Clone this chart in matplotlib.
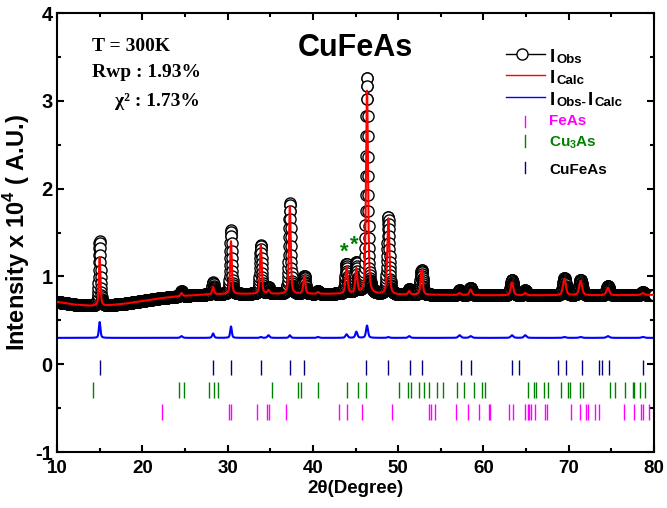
import numpy as np
import matplotlib.pyplot as plt

plt.rcParams['font.family'] = ['Liberation Sans', 'DejaVu Sans']
plt.rcParams['font.weight'] = 'bold'
plt.rcParams['axes.labelweight'] = 'bold'
plt.rcParams['axes.unicode_minus'] = False
plt.rcParams['mathtext.fontset'] = 'custom'
plt.rcParams['mathtext.rm'] = 'Liberation Sans:bold'
plt.rcParams['mathtext.bf'] = 'Liberation Sans:bold'

# background (2theta, intensity x1e4)
bkg_x = [10, 12, 14, 16, 18, 20, 22, 24, 26, 28, 30, 35, 40, 45, 50, 55, 60, 65, 70, 75, 80]
bkg_y = [0.71, 0.68, 0.665, 0.67, 0.69, 0.72, 0.75, 0.77, 0.785, 0.795, 0.80, 0.80, 0.80,
         0.80, 0.79, 0.79, 0.785, 0.785, 0.785, 0.785, 0.79]

# peaks: position, observed top, calculated top, fwhm
peak_pos = [15.0, 24.6, 28.3, 30.4, 33.9, 34.8, 37.3, 39.0, 40.6, 43.95, 45.1, 46.35,
            48.85, 51.3, 52.75, 57.2, 58.5, 63.35, 64.9, 69.5, 71.4, 74.6, 78.7]
peak_obs = [1.40, 0.83, 0.93, 1.53, 1.36, 0.87, 1.83, 1.00, 0.83, 1.14, 1.15, 3.26,
            1.67, 0.85, 1.07, 0.84, 0.87, 0.96, 0.84, 0.98, 0.96, 0.89, 0.82]
peak_calc = [1.22, 0.81, 0.88, 1.40, 1.35, 0.84, 1.80, 1.00, 0.82, 1.10, 1.08, 3.12,
             1.66, 0.83, 1.07, 0.81, 0.85, 0.93, 0.81, 0.97, 0.95, 0.87, 0.81]
peak_fwhm = [0.22, 0.3, 0.25, 0.22, 0.25, 0.3, 0.25, 0.28, 0.3, 0.3, 0.28, 0.28,
             0.3, 0.3, 0.3, 0.35, 0.35, 0.35, 0.35, 0.4, 0.4, 0.4, 0.4]

# reflection positions
fe_as = [22.35, 30.2, 30.4, 33.4, 34.6, 34.85, 36.85, 43.1, 44.0, 45.8, 49.3, 53.6, 53.85,
         54.3, 56.8, 58.2, 59.5, 60.7, 60.8, 62.95, 63.46, 64.9, 65.2, 65.4, 65.6, 66.1,
         67.25, 67.5, 70.3, 71.3, 71.97, 72.3, 73.1, 73.6, 76.5, 77.6, 78.5, 78.7, 79.4]
cu3_as = [14.25, 24.34, 24.93, 27.86, 28.41, 28.91, 35.24, 38.2, 38.57, 40.63, 44.03, 45.25,
          46.26, 50.1, 51.1, 51.45, 52.5, 53.0, 53.65, 54.6, 55.25, 56.9, 57.7, 58.94, 59.8,
          60.14, 65.2, 65.9, 66.2, 67.1, 67.56, 69.1, 69.95, 70.1, 71.35, 71.7, 74.8, 75.4,
          76.6, 77.5, 77.6, 78.4, 79.0]
cufe_as = [15.0, 28.25, 30.36, 33.88, 37.3, 39.0, 46.2, 48.76, 51.4, 52.75, 57.4, 58.6,
           63.4, 64.2, 68.8, 69.7, 71.5, 73.6, 73.9, 74.75, 78.66]

x_ticks = [10, 20, 30, 40, 50, 60, 70, 80]
y_ticks = [-1, 0, 1, 2, 3, 4]

tth = np.arange(10, 80.001, 0.02)
bkg = np.interp(tth, bkg_x, bkg_y)


def profile(tops):
    y = bkg.copy()
    for p, t, w in zip(peak_pos, tops, peak_fwhm):
        h = t - np.interp(p, bkg_x, bkg_y)
        g = np.exp(-4 * np.log(2) * ((tth - p) / w) ** 2)
        l = 1 / (1 + 4 * ((tth - p) / w) ** 2)
        y += h * (0.5 * g + 0.5 * l)
    return y


i_obs = profile(peak_obs)
i_calc = profile(peak_calc)
i_diff = i_obs - i_calc + 0.3

fig = plt.figure(figsize=(6.67, 5.08), dpi=100)
ax = fig.add_axes([0.0855, 0.1102, 0.895, 0.8642])

ax.plot(tth, i_obs, 'o', mfc='white', mec='black', ms=8, mew=1, zorder=2)
ax.plot(tth, i_calc, color='red', lw=1.5, zorder=3)
ax.plot(tth, i_diff, color='blue', lw=1.5)

ax.vlines(cufe_as, -0.125, 0.05, color='#000080', lw=1)
ax.vlines(cu3_as, -0.38, -0.2, color='#008000', lw=1)
ax.vlines(fe_as, -0.63, -0.45, color='#ff00ff', lw=1)

ax.set_xlim(10, 80)
ax.set_ylim(-1, 4)
ax.set_xticks(x_ticks, labels=[str(v) for v in x_ticks], fontsize=13.5, fontweight='bold')
ax.set_xticks(np.arange(15, 80, 10), minor=True)
ax.set_yticks(y_ticks, labels=[str(v) for v in y_ticks], fontsize=14.5, fontweight='bold')
ax.set_yticks(np.arange(-0.5, 4, 1), minor=True)
ax.tick_params(which='both', direction='in', top=True, right=True, width=1.5)
ax.tick_params(which='major', length=5)
ax.tick_params(which='minor', length=3)
ax.tick_params(axis='x', pad=6)
ax.tick_params(axis='y', pad=3)
for s in ax.spines.values():
    s.set_linewidth(1.5)

ax.set_xlabel('2θ(Degree)', fontsize=13.5, labelpad=2)
ax.set_ylabel(r'Intensity x 10$^{4}$ ( A.U.)', fontsize=17, labelpad=2)

ax.text(0.5, 0.92, 'CuFeAs', transform=ax.transAxes, fontsize=22, ha='center', va='center')
serif = ['Liberation Serif', 'DejaVu Serif']
ax.text(0.0586, 0.913, 'T = 300K', transform=ax.transAxes, fontsize=14, family=serif, va='baseline')
ax.text(0.0586, 0.854, 'Rwp : 1.93%', transform=ax.transAxes, fontsize=14, family=serif, va='baseline')
ax.text(0.097, 0.788, 'χ² : 1.73%', transform=ax.transAxes, fontsize=14, family=serif, va='baseline')

ax.text(43.7, 1.28, '*', color='#008000', fontsize=16, ha='center', va='center')
ax.text(44.85, 1.35, '*', color='#008000', fontsize=16, ha='center', va='center')

# legend drawn by hand
tr = ax.transAxes
ax.plot([0.752, 0.817], [0.907, 0.907], color='black', lw=1, transform=tr)
ax.plot([0.779], [0.907], 'o', mfc='white', mec='black', ms=8, mew=1, transform=tr)
ax.plot([0.752, 0.817], [0.859, 0.859], color='red', lw=1, transform=tr)
ax.plot([0.752, 0.817], [0.809, 0.809], color='blue', lw=1, transform=tr)
ax.plot([0.784, 0.784], [0.740, 0.765], color='#ff00ff', lw=1, transform=tr)
ax.plot([0.784, 0.784], [0.695, 0.722], color='#008000', lw=1, transform=tr)
ax.plot([0.784, 0.784], [0.636, 0.661], color='#000080', lw=1, transform=tr)


def legend_label(y, parts):
    prev = None
    for s, size in parts:
        if prev is None:
            prev = ax.text(0.826, y, s, fontsize=size, transform=tr, va='baseline')
        else:
            prev = ax.annotate(s, xy=(1, 0), xycoords=prev, fontsize=size,
                               va='bottom', xytext=(1, 0), textcoords='offset points')


big, small = 13.5, 9.5
legend_label(0.888, [('I', big), ('Obs', small)])
legend_label(0.840, [('I', big), ('Calc', small)])
legend_label(0.790, [('I', big), ('Obs-', small), ('I', big), ('Calc', small)])
ax.text(0.824, 0.754, 'FeAs', color='#ff00ff', fontsize=11, transform=tr, va='center')
ax.text(0.824, 0.704, r'Cu$_3$As', color='#008000', fontsize=11, transform=tr, va='center')
ax.text(0.824, 0.642, 'CuFeAs', color='black', fontsize=11, transform=tr, va='center')

fig.savefig('out.png', dpi=100)
